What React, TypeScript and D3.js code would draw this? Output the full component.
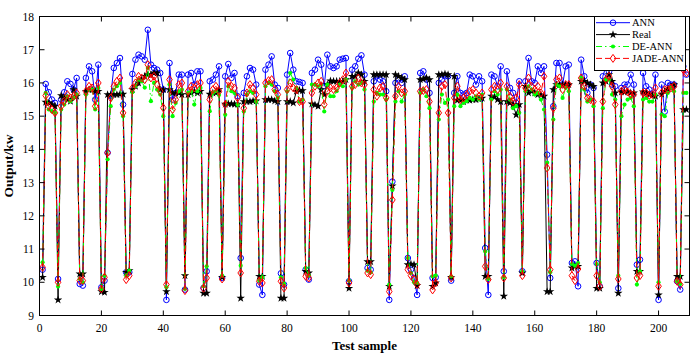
import React from 'react';
import * as d3 from 'd3';

const ann = [
  10.38, 15.97, 15.72, 15.5, 15.4, 10.1, 15.5, 15.72, 16.05, 15.97,
  15.8, 16.15, 9.95, 9.9, 16.15, 16.5, 16.35, 15.5, 16.55, 9.85,
  10.05, 13.9, 15.6, 16.45, 16.6, 16.75, 15.35, 10.3, 10.3, 16.27,
  16.7, 16.85, 16.8, 16.7, 17.6, 16.55, 16.45, 16.4, 16.3, 15.8,
  9.47, 16.6, 15.5, 15.7, 16.25, 16.25, 9.78, 16.25, 16.3, 15.95,
  16.35, 16.35, 9.83, 10.33, 16.05, 16.1, 16.25, 16.5, 10.13, 16.2,
  16.57, 16.15, 16.3, 15.6, 10.73, 15.7, 16.2, 16.45, 16.4, 15.95,
  9.93, 9.62, 16.4, 16.55, 16.8, 15.95, 15.85, 10.27, 9.93, 16.25,
  16.9, 16.4, 16.05, 16.03, 16.0, 10.38, 10.08, 16.3, 16.4, 16.7,
  16.55, 15.9, 16.85, 16.5, 16.45, 16.5, 16.7, 16.73, 16.75, 10.03,
  16.4, 16.5, 16.73, 16.83, 16.25, 10.43, 10.38, 16.05, 16.2, 16.1,
  16.05, 15.75, 9.47, 13.03, 16.0, 16.1, 16.0, 16.2, 10.73, 10.38,
  10.13, 9.62, 16.3, 16.35, 16.1, 15.7, 10.13, 10.15, 16.0, 16.1,
  16.2, 16.2, 10.05, 15.7, 16.2, 15.7, 15.65, 15.7, 16.25, 16.2,
  15.95, 16.2, 16.05, 11.03, 9.62, 16.25, 16.2, 15.9, 16.5, 10.33,
  16.35, 15.85, 15.7, 15.4, 16.05, 10.33, 16.05, 16.75, 16.05, 16.0,
  16.5, 16.3, 16.5, 13.84, 10.13, 15.3, 16.6, 16.6, 15.95, 16.5,
  16.55, 10.58, 10.63, 9.88, 16.7, 16.2, 15.7, 15.95, 15.85, 10.58,
  9.88, 16.2, 16.5, 16.35, 15.95, 15.9, 9.82, 15.85, 15.95, 15.95,
  16.25, 15.95, 10.53, 10.68, 16.3, 15.9, 15.8, 15.65, 16.25, 9.47,
  15.95, 15.14, 16.0, 15.95, 15.95, 10.03, 9.78, 16.5, 16.25,
];

const real = [
  10.15, 15.42, 15.4, 15.35, 15.3, 9.47, 15.62, 15.55, 15.5, 15.45,
  15.8, 15.6, 10.25, 10.25, 15.75, 15.8, 15.8, 15.75, 15.75, 9.72,
  9.7, 15.65, 15.65, 15.65, 15.65, 15.66, 15.66, 10.3, 10.35, 15.8,
  15.9, 16.0, 16.1, 16.2, 16.25, 16.25, 16.3, 16.3, 15.8, 15.8,
  9.72, 15.8, 15.7, 15.7, 15.7, 15.65, 10.2, 15.65, 15.7, 15.75,
  15.7, 15.75, 9.67, 9.67, 15.66, 15.7, 15.7, 15.8, 10.15, 15.36,
  15.37, 15.37, 15.36, 15.36, 9.52, 15.44, 15.44, 15.44, 15.46, 15.46,
  10.18, 10.18, 15.5, 15.5, 15.5, 15.46, 15.44, 9.52, 9.52, 15.44,
  15.44, 15.4, 15.75, 15.78, 15.77, 10.33, 10.28, 15.37, 15.34, 15.3,
  15.8, 15.65, 15.95, 16.06, 16.05, 16.05, 16.05, 16.05, 16.1, 9.82,
  16.2, 16.2, 16.3, 16.25, 16.05, 10.62, 10.62, 16.25, 16.25, 16.25,
  16.25, 16.25, 9.88, 12.9, 16.25, 16.2, 16.15, 16.1, 10.53, 10.55,
  10.53, 9.9, 16.1, 16.12, 16.15, 16.1, 9.88, 9.98, 16.25, 16.25,
  16.27, 16.25, 10.15, 16.2, 15.48, 15.48, 15.44, 15.48, 15.48, 15.5,
  15.5, 15.52, 15.54, 10.18, 10.18, 15.6, 15.58, 15.5, 15.44, 9.58,
  15.44, 15.4, 15.35, 15.04, 15.35, 10.28, 15.9, 15.7, 15.75, 15.7,
  15.65, 15.64, 15.6, 9.72, 9.72, 15.8, 15.95, 15.95, 15.95, 15.95,
  15.95, 10.43, 10.48, 10.48, 16.05, 16.05, 16.0, 15.95, 15.9, 9.82,
  9.82, 16.0, 16.05, 16.25, 16.05, 15.7, 9.67, 15.73, 15.73, 15.73,
  15.7, 15.7, 10.33, 10.33, 15.73, 15.7, 15.65, 15.63, 15.6, 9.62,
  15.66, 15.75, 15.8, 15.85, 15.95, 10.18, 10.18, 15.2, 15.2,
];

const deAnn = [
  10.6, 15.7, 15.2, 15.15, 15.1, 9.87, 15.2, 15.35, 15.6, 15.45,
  15.55, 15.65, 10.1, 10.0, 15.65, 15.8, 15.8, 15.2, 15.85, 9.8,
  10.2, 13.7, 15.3, 15.8, 15.9, 16.0, 15.0, 10.2, 10.35, 15.72,
  15.9, 16.1, 16.05, 15.86, 16.45, 15.45, 16.0, 15.8, 15.65, 15.0,
  9.85, 15.95, 15.0, 15.4, 15.75, 15.8, 9.8, 15.7, 15.75, 15.35,
  15.75, 15.85, 9.88, 10.48, 15.15, 15.7, 15.75, 15.64, 10.2, 15.04,
  15.9, 15.75, 15.7, 15.35, 10.5, 15.14, 15.65, 15.75, 15.7, 15.44,
  10.05, 10.15, 15.9, 16.0, 15.95, 15.75, 15.55, 10.15, 9.95, 15.75,
  16.3, 16.1, 15.85, 15.44, 15.5, 10.43, 10.2, 15.95, 15.95, 15.9,
  15.95, 15.14, 15.95, 15.6, 15.6, 15.75, 15.95, 15.9, 16.1, 10.05,
  15.85, 16.05, 15.95, 16.0, 15.8, 10.35, 10.3, 15.44, 15.7, 15.65,
  15.65, 15.5, 9.93, 12.78, 15.44, 15.75, 15.44, 15.65, 10.73, 10.28,
  10.0, 9.98, 15.7, 15.8, 15.6, 15.24, 10.18, 10.2, 14.9, 15.65,
  15.4, 15.5, 10.18, 15.3, 15.65, 15.3, 15.4, 15.45, 15.55, 15.5,
  15.6, 15.5, 15.65, 10.93, 10.1, 15.5, 15.75, 15.65, 15.8, 10.15,
  15.8, 15.5, 15.24, 15.3, 15.1, 10.33, 15.75, 15.9, 15.8, 15.65,
  15.7, 15.5, 15.2, 13.6, 10.3, 14.9, 15.95, 15.9, 15.55, 15.85,
  15.75, 10.55, 10.5, 10.58, 16.15, 15.8, 15.44, 15.5, 15.3, 10.55,
  10.0, 15.24, 16.1, 16.1, 15.65, 15.5, 10.2, 15.0, 15.35, 15.5,
  15.55, 15.3, 9.93, 10.33, 15.5, 15.55, 15.44, 15.44, 15.65, 10.0,
  15.05, 15.0, 15.7, 15.85, 15.75, 10.03, 9.95, 15.7, 15.7,
];

const jadeAnn = [
  10.45, 15.62, 15.3, 15.2, 15.1, 10.0, 15.3, 15.45, 15.65, 15.55,
  15.6, 15.7, 10.05, 10.05, 15.75, 15.9, 15.85, 15.3, 16.0, 9.8,
  10.15, 13.9, 15.55, 15.9, 16.05, 16.15, 15.1, 10.08, 10.2, 15.84,
  16.0, 16.2, 16.15, 16.1, 16.55, 16.15, 16.2, 15.95, 15.75, 15.25,
  9.93, 16.1, 15.2, 15.5, 15.95, 16.0, 9.75, 15.75, 15.9, 15.85,
  15.95, 16.0, 9.82, 10.13, 15.5, 15.8, 15.9, 15.75, 10.1, 15.35,
  16.05, 15.9, 15.85, 15.55, 10.28, 15.24, 15.7, 15.95, 15.85, 15.65,
  10.03, 9.98, 16.0, 16.07, 16.1, 15.8, 15.65, 10.03, 9.83, 15.8,
  16.0, 15.85, 15.8, 15.44, 15.44, 10.18, 10.13, 15.7, 15.9, 16.0,
  16.05, 15.35, 15.75, 15.85, 15.8, 15.85, 16.0, 16.1, 16.3, 9.98,
  15.9, 15.95, 16.15, 16.0, 15.95, 10.28, 10.23, 15.8, 15.6, 15.85,
  15.9, 15.55, 9.72, 12.48, 15.6, 15.9, 15.7, 15.75, 10.38, 10.2,
  10.08, 9.93, 15.75, 15.77, 15.8, 15.44, 9.77, 9.98, 15.1, 15.9,
  15.95, 15.1, 10.13, 15.55, 15.9, 15.5, 15.55, 15.65, 15.75, 15.8,
  15.7, 15.6, 15.7, 10.48, 10.08, 15.8, 15.9, 15.8, 16.0, 10.13,
  15.9, 15.6, 15.44, 15.55, 15.95, 10.2, 15.85, 16.15, 15.9, 15.8,
  15.9, 15.7, 16.2, 13.44, 10.38, 15.24, 16.1, 16.15, 15.8, 15.95,
  15.95, 10.2, 10.05, 10.4, 16.15, 15.9, 15.55, 15.5, 15.44, 10.2,
  9.88, 15.44, 16.1, 16.2, 15.9, 15.35, 10.1, 15.75, 15.8, 15.73,
  15.65, 15.65, 10.13, 10.2, 15.7, 15.7, 15.63, 15.65, 15.85, 9.88,
  15.7, 15.8, 15.8, 15.85, 15.9, 10.03, 9.93, 16.4, 16.3,
];

const xTicks = [0, 20, 40, 60, 80, 100, 120, 140, 160, 180, 200];
const yTicks = [9, 10, 11, 12, 13, 14, 15, 16, 17, 18];
const seriesNames = ['ANN', 'Real', 'DE-ANN', 'JADE-ANN'];

const W = 700;
const H = 359;
const left = 39.5, right = 689.5, top = 16.5, bottom = 315.5;
const font = '"Liberation Serif", "Times New Roman", serif';

const x = d3.scaleLinear().domain([0, 210]).range([left, right]);
const y = d3.scaleLinear().domain([9, 18]).range([bottom, top]);

const starPath = d3.symbol(d3.symbolStar, 22)() as string;
const diamondPath = 'M0,-4L2.8,0L0,4L-2.8,0Z';

function marker(kind: number, cx: number, cy: number, key: any) {
  const t = `translate(${cx},${cy})`;
  if (kind === 0) return <circle key={key} cx={cx} cy={cy} r={2.8} fill="none" stroke="#0000ff" strokeWidth={1} />;
  if (kind === 1) return <path key={key} d={starPath} transform={t} fill="#000" />;
  if (kind === 2) return <circle key={key} cx={cx} cy={cy} r={2.1} fill="#00ff00" />;
  return <path key={key} d={diamondPath} transform={t} fill="none" stroke="#ff0000" strokeWidth={1} />;
}

const styles = [
  { color: '#0000ff', dash: undefined },
  { color: '#000000', dash: undefined },
  { color: '#00ff00', dash: '6,3,1.5,3' },
  { color: '#ff0000', dash: '6,3' },
];

export default function App() {
  const all = [ann, real, deAnn, jadeAnn];
  const line = d3.line<number>().x((_, i) => x(i + 1)).y((d) => y(d));

  return (
    <svg width={W} height={H} style={{ position: 'absolute', left: 0, top: 0, background: '#fff' }}
      fontFamily={font}>
      <rect x={0} y={0} width={W} height={H} fill="#fff" />
      <defs>
        <clipPath id="plot">
          <rect x={left} y={top} width={right - left} height={bottom - top} />
        </clipPath>
      </defs>

      <g clipPath="url(#plot)">
        {all.map((vals, k) => (
          <g key={k}>
            <path d={line(vals) as string} fill="none" stroke={styles[k].color}
              strokeWidth={1} strokeDasharray={styles[k].dash} />
            {vals.map((v, i) => marker(k, x(i + 1), y(v), i))}
          </g>
        ))}
      </g>

      {/* frame and inward ticks */}
      <rect x={left} y={top} width={right - left} height={bottom - top} fill="none" stroke="#000" strokeWidth={1} />
      {xTicks.map((t) => (
        <g key={'x' + t}>
          <line x1={x(t)} x2={x(t)} y1={bottom} y2={bottom - 5} stroke="#000" />
          <line x1={x(t)} x2={x(t)} y1={top} y2={top + 5} stroke="#000" />
          <text x={x(t)} y={332} fontSize={11.5} textAnchor="middle">{t}</text>
        </g>
      ))}
      {yTicks.map((t) => (
        <g key={'y' + t}>
          <line x1={left} x2={left + 5} y1={y(t)} y2={y(t)} stroke="#000" />
          <line x1={right} x2={right - 5} y1={y(t)} y2={y(t)} stroke="#000" />
          <text x={34} y={y(t) + 4} fontSize={11.5} textAnchor="end">{t}</text>
        </g>
      ))}

      <text x={(left + right) / 2} y={350} fontSize={13} fontWeight="bold" textAnchor="middle">Test sample</text>
      <text transform={`translate(13,${(top + bottom) / 2}) rotate(-90)`} fontSize={13.5} fontWeight="bold"
        textAnchor="middle">Output/kw</text>

      {/* legend */}
      <g>
        <rect x={594.5} y={top} width={91} height={54} fill="#fff" stroke="#000" strokeWidth={1} />
        {seriesNames.map((name, k) => {
          const ly = 22.7 + k * 11.9;
          return (
            <g key={name}>
              <line x1={596} x2={630} y1={ly} y2={ly} stroke={styles[k].color} strokeWidth={1}
                strokeDasharray={styles[k].dash} />
              {marker(k, 613, ly, 'm')}
              <text x={632} y={ly + 3.6} fontSize={10.5}>{name}</text>
            </g>
          );
        })}
      </g>
    </svg>
  );
}
